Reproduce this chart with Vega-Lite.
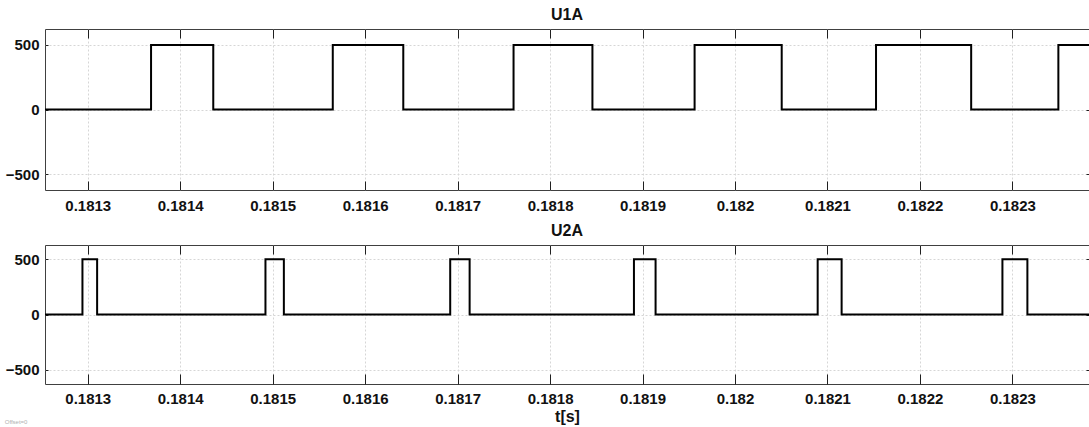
{
  "$schema": "https://vega.github.io/schema/vega-lite/v6.json",
  "background": "white",
  "padding": {"left": 4, "top": 6, "right": 0, "bottom": 0},
  "spacing": 8,
  "title": {"text": "Offset=0", "orient": "bottom", "anchor": "start", "fontSize": 6, "fontWeight": "normal", "color": "#b0b0b0", "offset": -6, "frame": "bounds"},
  "config": {
    "font": "Liberation Sans",
    "view": {"stroke": "#404040", "strokeWidth": 1},
    "axis": {
      "labelFont": "Liberation Sans",
      "labelFontSize": 15,
      "labelFontWeight": "bold",
      "labelColor": "#111111",
      "domain": false,
      "tickColor": "#202020",
      "tickWidth": 1,
      "gridColor": "#d6d6d6",
      "gridDash": [2, 2],
      "gridWidth": 1,
      "titleFont": "Liberation Sans",
      "titleFontSize": 16,
      "titleFontWeight": "bold",
      "titleColor": "#111111"
    },
    "title": {"font": "Liberation Sans", "fontSize": 16, "fontWeight": "bold", "color": "#111111", "offset": 6}
  },
  "datasets": {
    "u1a": [
      {"t": 0.18120, "v": 0},
      {"t": 0.18136847, "v": 500},
      {"t": 0.18143575, "v": 0},
      {"t": 0.18156500, "v": 500},
      {"t": 0.18164125, "v": 0},
      {"t": 0.18176050, "v": 500},
      {"t": 0.18184580, "v": 0},
      {"t": 0.18195630, "v": 500},
      {"t": 0.18205050, "v": 0},
      {"t": 0.18215250, "v": 500},
      {"t": 0.18225540, "v": 0},
      {"t": 0.18234970, "v": 500},
      {"t": 0.18245, "v": 500}
    ],
    "u2a": [
      {"t": 0.18120, "v": 0},
      {"t": 0.18129428, "v": 500},
      {"t": 0.18131015, "v": 0},
      {"t": 0.18149220, "v": 500},
      {"t": 0.18151210, "v": 0},
      {"t": 0.18169200, "v": 500},
      {"t": 0.18171300, "v": 0},
      {"t": 0.18189070, "v": 500},
      {"t": 0.18191410, "v": 0},
      {"t": 0.18208940, "v": 500},
      {"t": 0.18211530, "v": 0},
      {"t": 0.18228920, "v": 500},
      {"t": 0.18231620, "v": 0},
      {"t": 0.18245, "v": 0}
    ]
  },
  "vconcat": [
    {
      "title": {"text": "U1A"},
      "width": 1044,
      "height": 161,
      "data": {"name": "u1a"},
      "layer": [
        {
          "mark": {"type": "line", "interpolate": "step-after", "color": "black", "strokeWidth": 2, "clip": true},
          "encoding": {
            "x": {"field": "t", "type": "quantitative",
              "scale": {"domain": [0.18125378, 0.18238283], "nice": false, "zero": false},
              "axis": {"orient": "bottom", "values": [0.1813, 0.1814, 0.1815, 0.1816, 0.1817, 0.1818, 0.1819, 0.182, 0.1821, 0.1822, 0.1823], "format": ".4~f", "tickSize": -9, "labelPadding": 17, "grid": true, "title": null}},
            "y": {"field": "v", "type": "quantitative",
              "scale": {"domain": [-624, 624], "nice": false, "zero": false},
              "axis": {"orient": "left", "values": [-500, 0, 500], "tickSize": -3, "labelPadding": 9, "grid": true, "title": null}}
          }
        },
        {
          "mark": {"type": "line", "interpolate": "step-after", "strokeOpacity": 0, "clip": true},
          "encoding": {
            "x": {"field": "t", "type": "quantitative",
              "axis": {"orient": "top", "values": [0.1813, 0.1814, 0.1815, 0.1816, 0.1817, 0.1818, 0.1819, 0.182, 0.1821, 0.1822, 0.1823], "tickSize": -9, "labels": false, "grid": false, "title": null}},
            "y": {"field": "v", "type": "quantitative",
              "axis": {"orient": "right", "values": [-500, 0, 500], "tickSize": -3, "labels": false, "grid": false, "title": null}}
          }
        }
      ],
      "resolve": {"axis": {"x": "independent", "y": "independent"}}
    },
    {
      "title": {"text": "U2A"},
      "width": 1044,
      "height": 139,
      "data": {"name": "u2a"},
      "layer": [
        {
          "mark": {"type": "line", "interpolate": "step-after", "color": "black", "strokeWidth": 2, "clip": true},
          "encoding": {
            "x": {"field": "t", "type": "quantitative",
              "scale": {"domain": [0.18125378, 0.18238283], "nice": false, "zero": false},
              "axis": {"orient": "bottom", "values": [0.1813, 0.1814, 0.1815, 0.1816, 0.1817, 0.1818, 0.1819, 0.182, 0.1821, 0.1822, 0.1823], "format": ".4~f", "tickSize": -10, "labelPadding": 17, "grid": true, "title": "t[s]", "titlePadding": 2}},
            "y": {"field": "v", "type": "quantitative",
              "scale": {"domain": [-630, 630], "nice": false, "zero": false},
              "axis": {"orient": "left", "values": [-500, 0, 500], "tickSize": -3, "labelPadding": 9, "grid": true, "title": null}}
          }
        },
        {
          "mark": {"type": "line", "interpolate": "step-after", "strokeOpacity": 0, "clip": true},
          "encoding": {
            "x": {"field": "t", "type": "quantitative",
              "axis": {"orient": "top", "values": [0.1813, 0.1814, 0.1815, 0.1816, 0.1817, 0.1818, 0.1819, 0.182, 0.1821, 0.1822, 0.1823], "tickSize": -9, "labels": false, "grid": false, "title": null}},
            "y": {"field": "v", "type": "quantitative",
              "axis": {"orient": "right", "values": [-500, 0, 500], "tickSize": -3, "labels": false, "grid": false, "title": null}}
          }
        }
      ],
      "resolve": {"axis": {"x": "independent", "y": "independent"}}
    }
  ]
}
